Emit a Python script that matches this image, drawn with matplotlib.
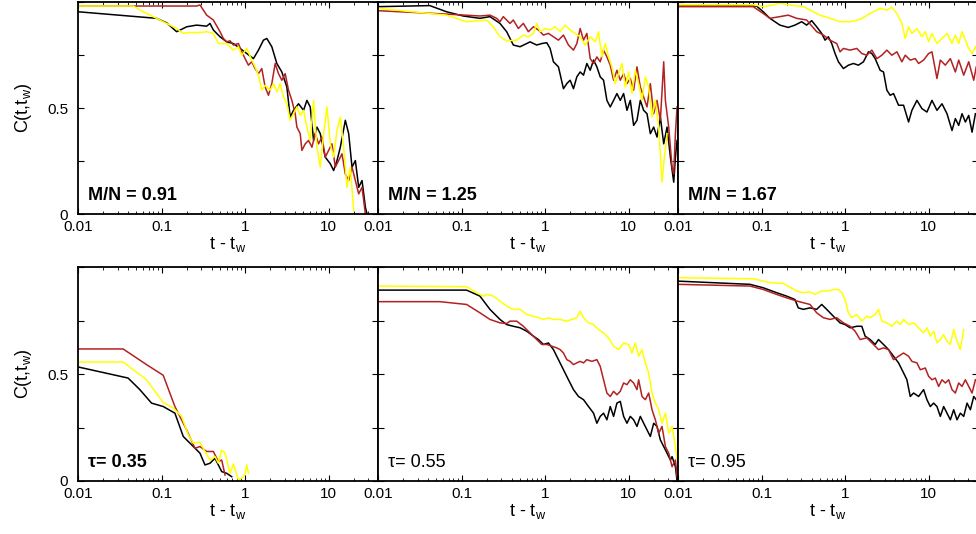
import numpy as np
import matplotlib
matplotlib.use("Agg")
import matplotlib.pyplot as plt
from matplotlib.ticker import LogLocator, FixedLocator, FuncFormatter, NullFormatter

plt.rcParams['font.family'] = ['Liberation Sans', 'DejaVu Sans']
plt.rcParams['mathtext.default'] = 'regular'

# curves: (log10(t - t_w), C(t, t_w))
mn091_black = [(-2.00, 0.954), (-1.06, 0.923), (-0.94, 0.902), (-0.82, 0.860), (-0.76, 0.871), (-0.70, 0.883),
               (-0.58, 0.891), (-0.46, 0.886), (-0.42, 0.899), (-0.38, 0.868), (-0.30, 0.836), (-0.22, 0.812),
               (-0.14, 0.804), (-0.06, 0.781), (0.02, 0.757), (0.10, 0.733), (0.16, 0.773), (0.22, 0.820),
               (0.26, 0.828), (0.32, 0.789), (0.38, 0.710), (0.44, 0.670), (0.50, 0.599), (0.54, 0.457),
               (0.58, 0.489), (0.64, 0.520), (0.70, 0.489), (0.74, 0.536), (0.78, 0.505), (0.82, 0.347),
               (0.86, 0.410), (0.90, 0.379), (0.96, 0.268), (1.02, 0.237), (1.06, 0.205), (1.10, 0.252),
               (1.14, 0.315), (1.20, 0.442), (1.24, 0.379), (1.28, 0.221), (1.32, 0.252), (1.36, 0.126),
               (1.40, 0.158), (1.44, 0.032), (1.46, 0.0)]
mn091_red = [(-2.00, 0.981), (-0.58, 0.981), (-0.54, 0.986), (-0.46, 0.938), (-0.38, 0.915), (-0.30, 0.860),
             (-0.26, 0.828), (-0.22, 0.812), (-0.18, 0.817), (-0.14, 0.797), (-0.08, 0.804), (-0.04, 0.765),
             (0.00, 0.733), (0.04, 0.702), (0.08, 0.718), (0.12, 0.686), (0.16, 0.662), (0.20, 0.686),
             (0.24, 0.599), (0.28, 0.560), (0.32, 0.615), (0.36, 0.710), (0.40, 0.662), (0.44, 0.631),
             (0.48, 0.662), (0.52, 0.584), (0.56, 0.536), (0.60, 0.473), (0.62, 0.410), (0.66, 0.379),
             (0.68, 0.300), (0.72, 0.331), (0.76, 0.347), (0.80, 0.315), (0.84, 0.379), (0.88, 0.331),
             (0.92, 0.363), (0.96, 0.268), (1.00, 0.300), (1.04, 0.331), (1.08, 0.221), (1.12, 0.252),
             (1.16, 0.284), (1.20, 0.189), (1.24, 0.158), (1.28, 0.221), (1.32, 0.158), (1.36, 0.095),
             (1.40, 0.126), (1.42, 0.063), (1.44, 0.0)]
mn091_yellow = [(-2.00, 0.981), (-1.34, 0.981), (-1.22, 0.954), (-1.06, 0.923), (-0.94, 0.899), (-0.82, 0.875),
                (-0.74, 0.852), (-0.66, 0.856), (-0.54, 0.856), (-0.46, 0.860), (-0.38, 0.852), (-0.32, 0.804),
                (-0.22, 0.804), (-0.14, 0.773), (-0.08, 0.789), (-0.04, 0.749), (0.02, 0.781), (0.08, 0.726),
                (0.12, 0.694), (0.16, 0.655), (0.20, 0.584), (0.24, 0.607), (0.30, 0.584), (0.34, 0.615),
                (0.38, 0.576), (0.42, 0.615), (0.46, 0.552), (0.50, 0.520), (0.54, 0.442), (0.58, 0.473),
                (0.62, 0.505), (0.66, 0.465), (0.70, 0.489), (0.74, 0.410), (0.78, 0.347), (0.82, 0.536),
                (0.86, 0.315), (0.90, 0.221), (0.94, 0.379), (0.98, 0.505), (1.02, 0.331), (1.06, 0.268),
                (1.10, 0.394), (1.14, 0.457), (1.18, 0.315), (1.22, 0.126), (1.26, 0.221), (1.30, 0.016)]

mn125_black = [(-2.00, 0.978), (-1.38, 0.983), (-1.18, 0.954), (-0.98, 0.934), (-0.78, 0.923), (-0.66, 0.931),
               (-0.54, 0.899), (-0.46, 0.860), (-0.38, 0.797), (-0.30, 0.789), (-0.22, 0.804), (-0.18, 0.812),
               (-0.10, 0.797), (-0.04, 0.804), (0.02, 0.808), (0.06, 0.781), (0.10, 0.718), (0.16, 0.694),
               (0.22, 0.591), (0.26, 0.615), (0.30, 0.631), (0.34, 0.591), (0.38, 0.647), (0.42, 0.670),
               (0.46, 0.655), (0.50, 0.710), (0.54, 0.678), (0.58, 0.726), (0.62, 0.694), (0.66, 0.647),
               (0.70, 0.631), (0.74, 0.536), (0.78, 0.505), (0.82, 0.536), (0.86, 0.568), (0.90, 0.536),
               (0.94, 0.568), (0.98, 0.489), (1.02, 0.536), (1.06, 0.418), (1.10, 0.442), (1.14, 0.536),
               (1.18, 0.489), (1.22, 0.473), (1.26, 0.379), (1.30, 0.410), (1.34, 0.363), (1.38, 0.457),
               (1.42, 0.331), (1.46, 0.410), (1.50, 0.268), (1.54, 0.150), (1.56, 0.268), (1.58, 0.347)]
mn125_red = [(-2.00, 0.959), (-1.18, 0.943), (-0.78, 0.934), (-0.66, 0.938), (-0.58, 0.923), (-0.54, 0.907),
             (-0.50, 0.931), (-0.42, 0.899), (-0.38, 0.915), (-0.32, 0.875), (-0.26, 0.899), (-0.20, 0.860),
             (-0.14, 0.883), (-0.08, 0.868), (-0.02, 0.844), (0.04, 0.852), (0.10, 0.836), (0.16, 0.820),
             (0.22, 0.844), (0.28, 0.797), (0.34, 0.773), (0.38, 0.804), (0.42, 0.875), (0.46, 0.820),
             (0.50, 0.852), (0.54, 0.733), (0.58, 0.710), (0.62, 0.741), (0.66, 0.718), (0.70, 0.773),
             (0.74, 0.741), (0.78, 0.702), (0.82, 0.631), (0.86, 0.678), (0.90, 0.631), (0.94, 0.662),
             (0.98, 0.615), (1.02, 0.639), (1.06, 0.584), (1.10, 0.694), (1.14, 0.599), (1.18, 0.552),
             (1.22, 0.505), (1.26, 0.615), (1.30, 0.473), (1.34, 0.536), (1.38, 0.442), (1.42, 0.718),
             (1.44, 0.536), (1.48, 0.410), (1.52, 0.221), (1.54, 0.189), (1.56, 0.379), (1.58, 0.505)]
mn125_yellow = [(-2.00, 0.970), (-1.18, 0.938), (-0.94, 0.907), (-0.70, 0.915), (-0.62, 0.883), (-0.54, 0.836),
                (-0.46, 0.817), (-0.34, 0.820), (-0.26, 0.844), (-0.20, 0.836), (-0.14, 0.852), (-0.10, 0.899),
                (-0.06, 0.860), (0.00, 0.875), (0.06, 0.868), (0.12, 0.883), (0.18, 0.860), (0.24, 0.891),
                (0.30, 0.868), (0.36, 0.852), (0.42, 0.836), (0.48, 0.797), (0.54, 0.836), (0.60, 0.812),
                (0.64, 0.860), (0.68, 0.741), (0.72, 0.804), (0.76, 0.741), (0.80, 0.694), (0.84, 0.615),
                (0.88, 0.662), (0.92, 0.710), (0.96, 0.599), (1.00, 0.670), (1.04, 0.568), (1.08, 0.678),
                (1.12, 0.615), (1.16, 0.536), (1.20, 0.647), (1.24, 0.599), (1.28, 0.457), (1.32, 0.536),
                (1.36, 0.410), (1.40, 0.150), (1.42, 0.237), (1.46, 0.379)]

mn167_black = [(-2.00, 0.981), (-1.06, 0.981), (-0.98, 0.954), (-0.90, 0.923), (-0.78, 0.891), (-0.68, 0.880),
               (-0.60, 0.891), (-0.52, 0.907), (-0.46, 0.891), (-0.40, 0.912), (-0.34, 0.883), (-0.28, 0.852),
               (-0.24, 0.820), (-0.20, 0.836), (-0.16, 0.804), (-0.12, 0.757), (-0.08, 0.718), (-0.02, 0.686),
               (0.04, 0.702), (0.10, 0.710), (0.16, 0.702), (0.22, 0.718), (0.28, 0.765), (0.32, 0.757),
               (0.36, 0.733), (0.42, 0.678), (0.46, 0.670), (0.50, 0.584), (0.54, 0.560), (0.58, 0.568),
               (0.64, 0.513), (0.70, 0.513), (0.76, 0.434), (0.80, 0.489), (0.86, 0.536), (0.92, 0.497),
               (0.98, 0.481), (1.04, 0.536), (1.10, 0.489), (1.16, 0.520), (1.22, 0.473), (1.28, 0.394),
               (1.32, 0.450), (1.36, 0.418), (1.40, 0.473), (1.44, 0.434), (1.48, 0.465), (1.52, 0.386),
               (1.56, 0.473)]
mn167_red = [(-2.00, 0.978), (-1.10, 0.978), (-0.98, 0.946), (-0.90, 0.923), (-0.78, 0.931), (-0.68, 0.938),
             (-0.58, 0.923), (-0.46, 0.915), (-0.34, 0.860), (-0.26, 0.844), (-0.18, 0.820), (-0.10, 0.804),
             (-0.06, 0.765), (-0.02, 0.781), (0.06, 0.773), (0.14, 0.781), (0.20, 0.757), (0.26, 0.749),
             (0.32, 0.773), (0.38, 0.733), (0.44, 0.749), (0.50, 0.773), (0.56, 0.749), (0.62, 0.765),
             (0.68, 0.718), (0.72, 0.749), (0.78, 0.726), (0.84, 0.733), (0.88, 0.710), (0.94, 0.726),
             (1.00, 0.757), (1.04, 0.765), (1.10, 0.639), (1.14, 0.726), (1.20, 0.702), (1.26, 0.733),
             (1.32, 0.670), (1.36, 0.726), (1.42, 0.655), (1.48, 0.718), (1.54, 0.631), (1.57, 0.694)]
mn167_yellow = [(-2.00, 0.987), (-1.10, 0.987), (-0.98, 0.978), (-0.86, 0.986), (-0.78, 0.994), (-0.66, 0.986),
                (-0.50, 0.978), (-0.30, 0.938), (-0.18, 0.923), (-0.06, 0.907), (0.06, 0.907), (0.18, 0.918),
                (0.30, 0.946), (0.42, 0.970), (0.50, 0.962), (0.56, 0.975), (0.62, 0.946), (0.68, 0.899),
                (0.72, 0.828), (0.76, 0.883), (0.80, 0.852), (0.86, 0.875), (0.92, 0.836), (0.96, 0.860),
                (1.00, 0.812), (1.04, 0.852), (1.10, 0.804), (1.16, 0.828), (1.22, 0.852), (1.28, 0.804),
                (1.32, 0.844), (1.36, 0.804), (1.40, 0.860), (1.44, 0.820), (1.48, 0.781), (1.52, 0.757),
                (1.56, 0.789)]

tau035_black = [(-2.00, 0.533), (-1.40, 0.481), (-1.26, 0.427), (-1.12, 0.364), (-0.98, 0.348), (-0.84, 0.317),
                (-0.74, 0.208), (-0.64, 0.169), (-0.54, 0.130), (-0.48, 0.075), (-0.42, 0.083), (-0.36, 0.106),
                (-0.32, 0.075), (-0.28, 0.044), (-0.22, 0.036), (-0.16, 0.020)]
tau035_red = [(-2.00, 0.617), (-1.46, 0.617), (-1.18, 0.544), (-0.98, 0.494), (-0.84, 0.348), (-0.70, 0.239),
              (-0.60, 0.153), (-0.54, 0.161), (-0.46, 0.138), (-0.38, 0.138), (-0.32, 0.091), (-0.28, 0.098),
              (-0.24, 0.028)]
tau035_yellow = [(-2.00, 0.556), (-1.46, 0.556), (-1.18, 0.473), (-0.98, 0.367), (-0.86, 0.341), (-0.76, 0.302),
                 (-0.68, 0.216), (-0.62, 0.177), (-0.54, 0.180), (-0.48, 0.138), (-0.42, 0.098), (-0.36, 0.114),
                 (-0.32, 0.083), (-0.28, 0.145), (-0.24, 0.130), (-0.18, 0.036), (-0.14, 0.080), (-0.08, 0.005),
                 (-0.02, 0.020), (0.00, 0.036), (0.02, 0.075), (0.04, 0.036)]

tau055_black = [(-2.00, 0.892), (-0.94, 0.892), (-0.78, 0.864), (-0.66, 0.802), (-0.54, 0.755), (-0.46, 0.731),
                (-0.38, 0.723), (-0.30, 0.716), (-0.22, 0.700), (-0.14, 0.677), (-0.08, 0.661), (-0.02, 0.638),
                (0.04, 0.645), (0.10, 0.614), (0.16, 0.567), (0.22, 0.520), (0.28, 0.473), (0.34, 0.427),
                (0.40, 0.395), (0.46, 0.380), (0.52, 0.348), (0.58, 0.317), (0.62, 0.270), (0.66, 0.302),
                (0.70, 0.317), (0.74, 0.286), (0.78, 0.348), (0.82, 0.302), (0.86, 0.364), (0.90, 0.372),
                (0.94, 0.302), (0.98, 0.270), (1.02, 0.302), (1.06, 0.286), (1.10, 0.255), (1.14, 0.302),
                (1.18, 0.270), (1.22, 0.239), (1.26, 0.208), (1.30, 0.270), (1.34, 0.255), (1.38, 0.192),
                (1.42, 0.161), (1.46, 0.130), (1.50, 0.098), (1.52, 0.114), (1.56, 0.067), (1.58, 0.0)]
tau055_red = [(-2.00, 0.838), (-1.26, 0.838), (-0.94, 0.825), (-0.78, 0.786), (-0.66, 0.755), (-0.54, 0.739),
              (-0.46, 0.736), (-0.42, 0.747), (-0.34, 0.747), (-0.26, 0.723), (-0.18, 0.692), (-0.10, 0.661),
              (-0.04, 0.638), (0.02, 0.638), (0.08, 0.630), (0.14, 0.622), (0.18, 0.614), (0.22, 0.598),
              (0.26, 0.567), (0.30, 0.559), (0.34, 0.544), (0.38, 0.552), (0.42, 0.559), (0.46, 0.552),
              (0.50, 0.567), (0.56, 0.559), (0.62, 0.567), (0.66, 0.536), (0.70, 0.473), (0.74, 0.411),
              (0.78, 0.395), (0.82, 0.419), (0.86, 0.403), (0.90, 0.419), (0.94, 0.458), (0.98, 0.450),
              (1.02, 0.473), (1.06, 0.458), (1.10, 0.427), (1.12, 0.473), (1.16, 0.395), (1.20, 0.380),
              (1.24, 0.411), (1.28, 0.333), (1.32, 0.286), (1.36, 0.223), (1.40, 0.255), (1.44, 0.161),
              (1.48, 0.130), (1.52, 0.067), (1.56, 0.098), (1.58, 0.020)]
tau055_yellow = [(-2.00, 0.911), (-0.94, 0.908), (-0.82, 0.880), (-0.74, 0.864), (-0.70, 0.872), (-0.62, 0.864),
                 (-0.54, 0.841), (-0.46, 0.817), (-0.38, 0.802), (-0.30, 0.802), (-0.22, 0.778), (-0.14, 0.770),
                 (-0.08, 0.763), (-0.02, 0.755), (0.04, 0.763), (0.10, 0.755), (0.18, 0.755), (0.26, 0.747),
                 (0.32, 0.755), (0.38, 0.763), (0.42, 0.794), (0.46, 0.763), (0.52, 0.739), (0.58, 0.731),
                 (0.64, 0.708), (0.70, 0.692), (0.76, 0.669), (0.82, 0.630), (0.88, 0.614), (0.94, 0.645),
                 (1.00, 0.638), (1.04, 0.598), (1.08, 0.645), (1.12, 0.583), (1.16, 0.614), (1.20, 0.552),
                 (1.24, 0.505), (1.28, 0.411), (1.32, 0.364), (1.36, 0.333), (1.40, 0.270), (1.44, 0.317),
                 (1.48, 0.223), (1.52, 0.255), (1.56, 0.161), (1.58, 0.098)]

tau095_black = [(-2.00, 0.934), (-1.14, 0.919), (-0.98, 0.903), (-0.82, 0.880), (-0.70, 0.864), (-0.60, 0.848),
                (-0.56, 0.809), (-0.50, 0.802), (-0.42, 0.809), (-0.34, 0.802), (-0.28, 0.825), (-0.22, 0.802),
                (-0.14, 0.770), (-0.06, 0.739), (0.00, 0.731), (0.06, 0.716), (0.14, 0.723), (0.20, 0.723),
                (0.24, 0.677), (0.30, 0.661), (0.36, 0.638), (0.40, 0.661), (0.46, 0.638), (0.52, 0.614),
                (0.58, 0.583), (0.64, 0.552), (0.70, 0.505), (0.74, 0.473), (0.78, 0.395), (0.82, 0.411),
                (0.88, 0.395), (0.94, 0.427), (0.98, 0.380), (1.02, 0.348), (1.06, 0.364), (1.10, 0.348),
                (1.14, 0.302), (1.18, 0.348), (1.22, 0.317), (1.26, 0.286), (1.30, 0.333), (1.34, 0.286),
                (1.38, 0.317), (1.42, 0.302), (1.46, 0.364), (1.50, 0.333), (1.54, 0.395), (1.57, 0.380)]
tau095_red = [(-2.00, 0.919), (-1.14, 0.911), (-0.98, 0.895), (-0.82, 0.872), (-0.70, 0.856), (-0.58, 0.841),
              (-0.50, 0.833), (-0.42, 0.825), (-0.34, 0.786), (-0.26, 0.763), (-0.18, 0.755), (-0.10, 0.763),
              (-0.02, 0.739), (0.06, 0.723), (0.12, 0.700), (0.18, 0.661), (0.26, 0.669), (0.34, 0.638),
              (0.40, 0.614), (0.46, 0.622), (0.52, 0.614), (0.58, 0.567), (0.64, 0.583), (0.70, 0.598),
              (0.76, 0.583), (0.80, 0.559), (0.86, 0.552), (0.90, 0.520), (0.96, 0.528), (1.00, 0.489),
              (1.04, 0.473), (1.08, 0.481), (1.12, 0.442), (1.16, 0.473), (1.20, 0.458), (1.24, 0.473),
              (1.28, 0.427), (1.32, 0.411), (1.36, 0.458), (1.40, 0.442), (1.44, 0.473), (1.48, 0.442),
              (1.52, 0.411), (1.56, 0.473)]
tau095_yellow = [(-2.00, 0.950), (-1.10, 0.945), (-0.90, 0.927), (-0.74, 0.923), (-0.58, 0.888), (-0.50, 0.880),
                 (-0.42, 0.884), (-0.36, 0.872), (-0.28, 0.888), (-0.20, 0.888), (-0.14, 0.895), (-0.08, 0.895),
                 (-0.04, 0.880), (0.00, 0.848), (0.04, 0.786), (0.08, 0.763), (0.14, 0.778), (0.20, 0.747),
                 (0.26, 0.770), (0.30, 0.763), (0.36, 0.778), (0.40, 0.802), (0.44, 0.747), (0.50, 0.739),
                 (0.56, 0.723), (0.62, 0.747), (0.66, 0.731), (0.70, 0.755), (0.76, 0.731), (0.82, 0.739),
                 (0.88, 0.716), (0.94, 0.692), (0.98, 0.716), (1.02, 0.677), (1.06, 0.700), (1.10, 0.645),
                 (1.14, 0.661), (1.18, 0.684), (1.22, 0.653), (1.26, 0.638), (1.30, 0.708), (1.34, 0.653),
                 (1.38, 0.614), (1.42, 0.708)]

panel_labels = ['M/N = 0.91', 'M/N = 1.25', 'M/N = 1.67', 'τ= 0.35', 'τ= 0.55', 'τ= 0.95']
label_weights = ['bold', 'bold', 'bold', 'bold', 'normal', 'normal']
panel_curves = [
    (mn091_black, mn091_red, mn091_yellow),
    (mn125_black, mn125_red, mn125_yellow),
    (mn167_black, mn167_red, mn167_yellow),
    (tau035_black, tau035_red, tau035_yellow),
    (tau055_black, tau055_red, tau055_yellow),
    (tau095_black, tau095_red, tau095_yellow),
]
colors = ['black', '#b22222', '#ffff00']

W, H = 976, 534
fig = plt.figure(figsize=(W / 100, H / 100), dpi=100)

lefts = [78, 378, 678]
rows = [(2, 214), (267, 481)]  # top and bottom pixel of each row

for i in range(6):
    r, c = divmod(i, 3)
    top, bot = rows[r]
    ax = fig.add_axes([lefts[c] / W, 1 - bot / H, 300 / W, (bot - top) / H])

    for data, col in zip(panel_curves[i], colors):
        arr = np.array(data)
        ax.plot(10 ** arr[:, 0], arr[:, 1], color=col, lw=1.1)

    ax.set_xscale('log')
    ax.set_xlim(0.01, 39)
    ax.set_ylim(0, 1)
    ax.xaxis.set_major_locator(FixedLocator([0.01, 0.1, 1, 10]))
    ax.xaxis.set_major_formatter(FuncFormatter(lambda v, p: f'{v:g}'))
    ax.xaxis.set_minor_locator(LogLocator(base=10, subs=np.arange(2, 10)))
    ax.xaxis.set_minor_formatter(NullFormatter())
    ax.set_yticks([0, 0.25, 0.5, 0.75, 1])
    if c == 0:
        ax.set_yticklabels(['0', '', '0.5', '', ''])
        ax.set_ylabel('C(t,t$_w$)', fontsize=13)
        ax.yaxis.set_label_coords(-0.145, 0.5)
    else:
        ax.set_yticklabels([])
    ax.set_xlabel('t - t$_w$', fontsize=13)
    ax.xaxis.set_label_coords(0.5, -0.1)

    ax.tick_params(which='both', direction='in', top=True, right=True, labelsize=11)
    ax.tick_params(axis='x', pad=4)
    ax.tick_params(axis='y', pad=7)
    ax.tick_params(which='major', length=4, width=0.8)
    ax.tick_params(which='minor', length=2, width=0.6)
    for s in ax.spines.values():
        s.set_linewidth(1.3)

    ax.text(0.035, 0.065, panel_labels[i], transform=ax.transAxes, fontsize=13,
            fontweight=label_weights[i], va='baseline', ha='left')

fig.savefig('out.png', dpi=100)
